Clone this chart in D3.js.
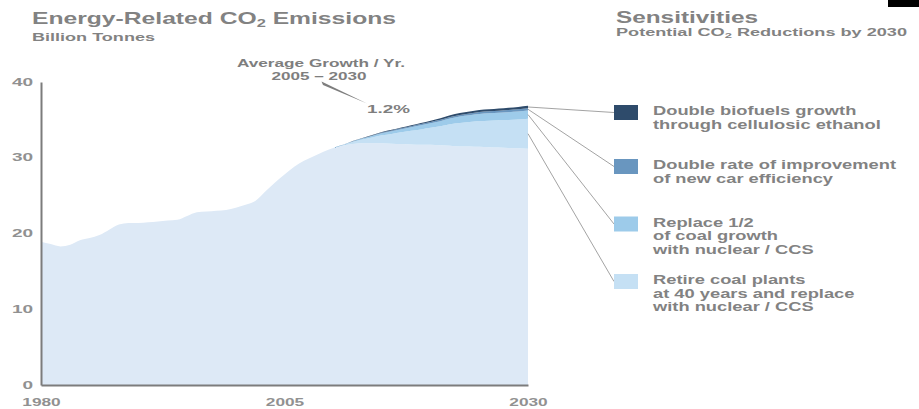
<!DOCTYPE html>
<html>
<head>
<meta charset="utf-8">
<script src="https://cdn.jsdelivr.net/npm/d3@7"></script>
<style>
  body { margin: 0; background: #fff; }
  svg { display: block; font-family: "Liberation Sans", Arial, sans-serif; font-weight: bold; }
</style>
</head>
<body>
<svg id="chart" width="919" height="409"></svg>
<script>
/*
Years on the x axis, 1980 - 2030 */
var years = d3.range(1980, 2031);
/*
Emissions left after all sensitivities (billion tonnes) */
var base = [18.9, 18.6, 18.3, 18.5, 19.1, 19.4, 19.8, 20.5, 21.2, 21.4,
            21.4, 21.5, 21.6, 21.7, 21.8, 22.3, 22.8, 22.9, 23.0, 23.1,
            23.4, 23.8, 24.3, 25.5, 26.7, 27.8, 28.8, 29.6, 30.2, 30.8,
            31.3, 31.6, 31.8, 31.9, 31.9, 31.9, 31.85, 31.8, 31.75, 31.7,
            31.7, 31.65, 31.6, 31.5, 31.5, 31.45, 31.4, 31.35, 31.3, 31.25,
            31.2];
/*
Projection years where the reductions apply */
var projYears = d3.range(2010, 2031);
var retire  = [0, 0.07, 0.28, 0.5, 0.78, 1.06, 1.3, 1.55, 1.8, 2.04, 2.25, 2.5, 2.82, 3.1, 3.23, 3.4, 3.5, 3.6, 3.7, 3.8, 3.95];
var replace = [0, 0.02, 0.08, 0.13, 0.2, 0.28, 0.35, 0.42, 0.48, 0.55, 0.61, 0.67, 0.75, 0.83, 0.87, 0.92, 0.96, 0.99, 1.02, 1.05, 1.1];
var car     = [0, 0.01, 0.02, 0.04, 0.06, 0.08, 0.1, 0.12, 0.14, 0.16, 0.17, 0.19, 0.21, 0.23, 0.25, 0.26, 0.27, 0.28, 0.29, 0.3, 0.3];
var bio     = [0, 0, 0.02, 0.03, 0.06, 0.08, 0.1, 0.11, 0.13, 0.15, 0.17, 0.19, 0.22, 0.24, 0.25, 0.27, 0.27, 0.28, 0.29, 0.3, 0.3];

var yTicks = [0, 10, 20, 30, 40];
var xTicks = [1980, 2005, 2030];

var legendKeys = ['bio', 'car', 'replace', 'retire'];
var legendLabels = [
  ["Double biofuels growth", "through cellulosic ethanol"],
  ["Double rate of improvement", "of new car efficiency"],
  ["Replace 1/2", "of coal growth", "with nuclear / CCS"],
  ["Retire coal plants", "at 40 years and replace", "with nuclear / CCS"]
];

var colors = { base: '#dde9f6', retire: '#c5e0f4', replace: '#9dcbea', car: '#6996bf', bio: '#2e4b6b' };
var textGray = '#828282';
var stretch = 1.43;   // the original type is set wide

/*
Build one row per year for the stack */
function build_rows() {
  return years.map(function(yr, i) {
    var j = projYears.indexOf(yr);
    return {
      year: yr,
      base: base[i],
      retire: j < 0 ? 0 : retire[j],
      replace: j < 0 ? 0 : replace[j],
      car: j < 0 ? 0 : car[j],
      bio: j < 0 ? 0 : bio[j]
    };
  });
}

/*
Widen a text selection by a factor */
function widen(sel, k) {
  sel.each(function() {
    var w = this.getComputedTextLength();
    d3.select(this).attr("textLength", w * k).attr("lengthAdjust", "spacingAndGlyphs");
  });
}

function draw() {
  var svg = d3.select("#chart");
  var x = d3.scaleLinear().domain([1980, 2030]).range([41, 528]);
  var y = d3.scaleLinear().domain([0, 40]).range([385, 82]);

  var rows = build_rows();
  var stack = d3.stack().keys(['base', 'retire', 'replace', 'car', 'bio'])(rows);

  var area = d3.area()
      .x(function(d) { return x(d.data.year); })
      .y0(function(d) { return y(d[0]); })
      .y1(function(d) { return y(d[1]); })
      .curve(d3.curveMonotoneX);

  svg.append("g").selectAll("path")
    .data(stack)
    .enter().append("path")
      .attr("d", area)
      .attr("fill", function(d) { return colors[d.key]; });

  // axes
  var yAxis = svg.append("g")
      .attr("transform", "translate(41,0)")
      .call(d3.axisLeft(y).tickValues(yTicks).tickSize(0).tickPadding(8));
  var xAxis = svg.append("g")
      .attr("transform", "translate(0,385)")
      .call(d3.axisBottom(x).tickValues(xTicks).tickFormat(d3.format("d")).tickSize(0).tickPadding(13));

  [yAxis, xAxis].forEach(function(g) {
    g.select(".domain").attr("stroke", "#7c7c7c").attr("stroke-width", 2);
    g.selectAll("text")
      .attr("fill", "#919191")
      .style("font-family", "Liberation Sans, Arial, sans-serif")
      .style("font-weight", "bold");
  });
  yAxis.selectAll("text").style("font-size", "10px");
  xAxis.selectAll("text").style("font-size", "11.5px");
  widen(yAxis.selectAll("text"), 1.9);
  widen(xAxis.selectAll("text"), 1.5);

  // titles
  var t1 = svg.append("text").attr("x", 32).attr("y", 24)
      .attr("fill", textGray).style("font-size", "16.5px");
  t1.append("tspan").text("Energy-Related CO");
  t1.append("tspan").attr("dy", 3).style("font-size", "11px").text("2");
  t1.append("tspan").attr("dy", -3).text(" Emissions");
  t1.attr("textLength", 364).attr("lengthAdjust", "spacingAndGlyphs");

  svg.append("text").attr("x", 32).attr("y", 41)
      .attr("fill", textGray).style("font-size", "10.5px")
      .attr("textLength", 123).attr("lengthAdjust", "spacingAndGlyphs")
      .text("Billion Tonnes");

  svg.append("text").attr("x", 616).attr("y", 23)
      .attr("fill", textGray).style("font-size", "16px")
      .attr("textLength", 142).attr("lengthAdjust", "spacingAndGlyphs")
      .text("Sensitivities");

  var t2 = svg.append("text").attr("x", 616).attr("y", 36)
      .attr("fill", textGray).style("font-size", "10.5px");
  t2.append("tspan").text("Potential CO");
  t2.append("tspan").attr("dy", 2).style("font-size", "7.5px").text("2");
  t2.append("tspan").attr("dy", -2).text(" Reductions by 2030");
  t2.attr("textLength", 291).attr("lengthAdjust", "spacingAndGlyphs");

  // growth annotation
  svg.append("text").attr("x", 321).attr("y", 67).attr("text-anchor", "middle")
      .attr("fill", "#7e7e7e").style("font-size", "11px")
      .attr("textLength", 168).attr("lengthAdjust", "spacingAndGlyphs")
      .text("Average Growth / Yr.");
  svg.append("text").attr("x", 319).attr("y", 79.5).attr("text-anchor", "middle")
      .attr("fill", "#7e7e7e").style("font-size", "11px")
      .attr("textLength", 95).attr("lengthAdjust", "spacingAndGlyphs")
      .text("2005 \u2013 2030");
  svg.append("text").attr("x", 367).attr("y", 113)
      .attr("fill", "#7e7e7e").style("font-size", "11px")
      .attr("textLength", 43).attr("lengthAdjust", "spacingAndGlyphs")
      .text("1.2%");
  svg.append("path")
      .attr("d", "M321.5,81.5L367,103.5L323,85Z")
      .attr("fill", "#7e7e7e");

  // legend
  var legendTop = [105, 159, 216.5, 274];
  var last = stack.map(function(s) { return s[s.length - 1]; });
  var keyIndex = { base: 0, retire: 1, replace: 2, car: 3, bio: 4 };

  legendKeys.forEach(function(key, i) {
    var band = last[keyIndex[key]];
    var midY = y((band[0] + band[1]) / 2);
    var top = legendTop[i];

    svg.append("line")
        .attr("x1", x(2030)).attr("y1", midY)
        .attr("x2", 614).attr("y2", top + 7.5)
        .attr("stroke", "#999").attr("stroke-width", 0.9);

    svg.append("rect")
        .attr("x", 614).attr("y", top)
        .attr("width", 24).attr("height", 15)
        .attr("fill", colors[key]);

    var lines = svg.append("g").selectAll("text")
      .data(legendLabels[i])
      .enter().append("text")
        .attr("x", 653)
        .attr("y", function(d, k) { return top + 10 + k * 13.6; })
        .attr("fill", textGray)
        .style("font-size", "12.8px")
        .text(function(d) { return d; });
    widen(lines, stretch);
  });

  // corner mark in the original picture
  svg.append("rect").attr("x", 888).attr("y", 0).attr("width", 31).attr("height", 7).attr("fill", "#000");
}

document.addEventListener('DOMContentLoaded', function() { draw(); });
</script>
</body>
</html>
